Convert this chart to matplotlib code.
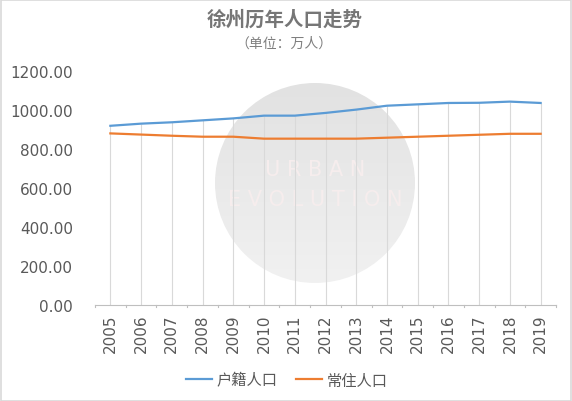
import matplotlib
matplotlib.use("Agg")
import matplotlib.pyplot as plt
import numpy as np
from matplotlib.patches import Circle, Rectangle
from matplotlib.colors import LinearSegmentedColormap

plt.rcParams['font.family'] = ['Noto Sans CJK SC', 'DejaVu Sans']

years = [str(y) for y in range(2005, 2020)]
huji = [919, 930, 937, 947, 957, 971, 971, 985, 1002, 1022, 1029, 1036, 1037, 1043, 1036]
changzhu = [880, 874, 868, 863, 863, 853, 853, 853, 853, 858, 863, 868, 873, 878, 878]
yticks = [0, 200, 400, 600, 800, 1000, 1200]

W, H = 572, 402
fig = plt.figure(figsize=(W / 100, H / 100), dpi=100)
fig.patch.set_facecolor('white')

# outer border
fig.patches.append(Rectangle((0.5 / W, 0.5 / H), 1 - 1.5 / W, 1 - 1.5 / H, transform=fig.transFigure,
                             fill=False, edgecolor='#d9d9d9', linewidth=1.2))

# watermark (background axes)
cx, cy, r = 315, 184, 100
wm = fig.add_axes([(cx - r) / W, 1 - (cy + r) / H, 2 * r / W, 2 * r / H], zorder=-1)
wm.set_xlim(0, 1)
wm.set_ylim(0, 1)
wm.axis('off')
cmap = LinearSegmentedColormap.from_list('wm', ['#e2e2e2', '#f1f1f1'])
grad = np.linspace(0, 1, 200)[:, None] * np.ones((1, 10))
img = wm.imshow(grad, extent=(0, 1, 0, 1), origin='upper', cmap=cmap, aspect='auto')
clip = Circle((0.5, 0.5), 0.5, transform=wm.transAxes)
img.set_clip_path(clip)
wm.text(0.5, 0.57, 'U R B A N', ha='center', va='center', fontsize=15,
        color='#f6eded', family=['DejaVu Sans'])
wm.text(0.5, 0.42, 'E V O L U T I O N', ha='center', va='center', fontsize=15,
        color='#f6eded', family=['DejaVu Sans'])

left, right, top, bottom = 95, 556, 72, 306
ax = fig.add_axes([left / W, 1 - bottom / H, (right - left) / W, (bottom - top) / H])
ax.set_facecolor('none')

x = list(range(len(years)))
top_series = [max(a, b) for a, b in zip(huji, changzhu)]
ax.vlines(x, 0, top_series, color='#d9d9d9', linewidth=0.8, zorder=1)
ax.plot(x, huji, color='#5B9BD5', linewidth=1.6, label='户籍人口', zorder=3)
ax.plot(x, changzhu, color='#ED7D31', linewidth=1.6, label='常住人口', zorder=3)

ax.set_xlim(-0.5, len(years) - 0.5)
ax.set_ylim(0, 1200)
ax.set_yticks(yticks)
ax.set_yticklabels([f"{v:.2f}" for v in yticks], family=['DejaVu Sans'], fontsize=11, color='#595959')
ax.set_xticks(x)
ax.set_xticklabels(years, rotation=90, family=['DejaVu Sans'], fontsize=11, color='#595959')
ax.tick_params(axis='y', length=0, pad=16)
ax.tick_params(axis='x', length=0, pad=6)
for i in range(len(years) + 1):
    ax.plot([i - 0.5, i - 0.5], [0, -12], color='#bfbfbf', linewidth=0.8, clip_on=False)
for s in ['top', 'right', 'left']:
    ax.spines[s].set_visible(False)
ax.spines['bottom'].set_color('#bfbfbf')

fig.text(285 / W, 1 - 20 / H, '徐州历年人口走势', ha='center', va='center', fontsize=14,
         fontweight='bold', color='#767676')
fig.text(284 / W, 1 - 44 / H, '（单位：万人）', ha='center', va='center', fontsize=10, color='#7f7f7f')

fig.legend(loc='center', bbox_to_anchor=(287 / W, 1 - 381 / H), ncol=2, frameon=False,
           fontsize=11, labelcolor='#595959', handlelength=1.7, columnspacing=1.2, handletextpad=0.3)

fig.savefig('out.png', dpi=100)
